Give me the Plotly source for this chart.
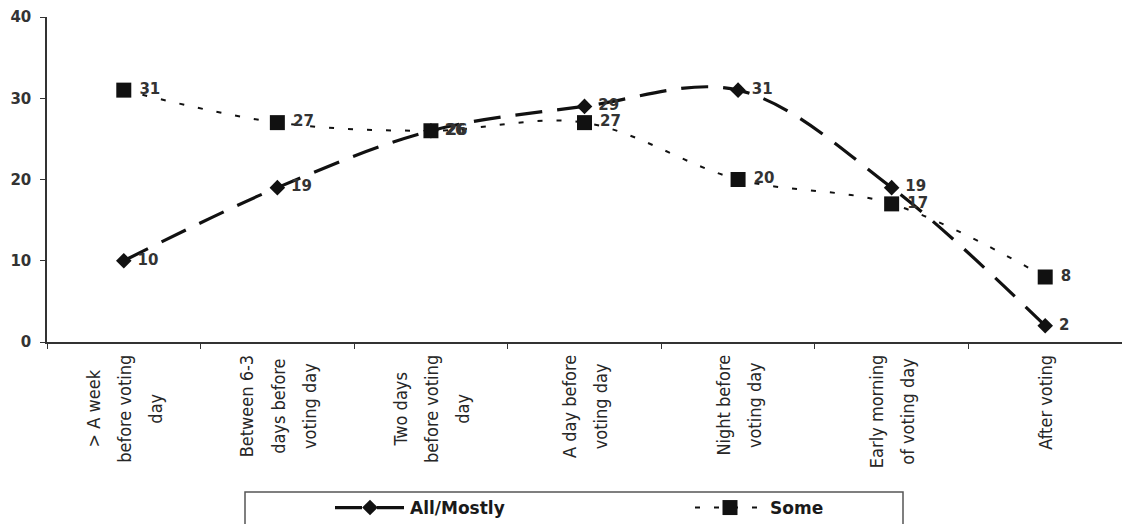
import plotly.graph_objects as go

# Timing of the decision, one category per point on the x axis
categories = [
    "> A week before voting day",
    "Between 6-3 days before voting day",
    "Two days before voting day",
    "A day before voting day",
    "Night before voting day",
    "Early morning of voting day",
    "After voting",
]
tick_labels = [
    "> A week<br>before voting<br>day",
    "Between 6-3<br>days before<br>voting day",
    "Two days<br>before voting<br>day",
    "A day before<br>voting day",
    "Night before<br>voting day",
    "Early morning<br>of voting day",
    "After voting",
]
all_mostly = [10, 19, 26, 29, 31, 19, 2]
some = [31, 27, 26, 27, 20, 17, 8]
y_ticks = [0, 10, 20, 30, 40]

W, H = 1122, 524
M_L, M_R, M_T, M_B = 47, 0, 17, 182
PW, PH = W - M_L - M_R, H - M_T - M_B


def px_x(p):
    return (p - M_L) / PW


def px_y(p):
    return (H - M_B - p) / PH


def wide_lines(label, size):
    # keep the larger annotation font for line pitch, draw glyphs smaller
    return "<br>".join(f'<span style="font-size:{size}px">{part}</span>'
                       for part in label.split("<br>"))


label_font = dict(family="DejaVu Sans", size=15, color="#333333", weight="bold")

fig = go.Figure()
fig.add_trace(go.Scatter(
    x=categories, y=all_mostly, name="All/Mostly",
    mode="lines+markers+text",
    line=dict(color="#111111", width=3.2, dash="27px,15px", shape="spline", smoothing=1.0),
    marker=dict(symbol="diamond", size=12, color="#111111"),
    text=[f" {v}" for v in all_mostly], textposition="middle right",
    textfont=label_font,
))
fig.add_trace(go.Scatter(
    x=categories, y=some, name="Some",
    mode="lines+markers+text",
    line=dict(color="#111111", width=2, dash="5px,14px", shape="spline", smoothing=1.0),
    marker=dict(symbol="square", size=15, color="#111111"),
    text=[f" {v}" for v in some], textposition="middle right",
    textfont=label_font,
))

# Category labels, rotated and centred line by line under each point
for cat, lab in zip(categories, tick_labels):
    fig.add_annotation(
        x=cat, xref="x", y=0, yref="paper", yanchor="top", xanchor="center",
        yshift=-11, text=wide_lines(lab, 18), textangle=-90, align="center",
        showarrow=False,
        font=dict(family="Liberation Sans Narrow, DejaVu Sans Condensed, Arial Narrow, sans-serif",
                  size=24, color="#262626"),
    )

# Legend frame
fig.add_shape(type="rect", xref="paper", yref="paper",
              x0=px_x(245), x1=px_x(903), y0=px_y(492), y1=px_y(540),
              line=dict(color="#555555", width=1.5), fillcolor="rgba(0,0,0,0)")

fig.update_layout(
    width=W, height=H,
    margin=dict(l=M_L, r=M_R, t=M_T, b=M_B, autoexpand=False),
    paper_bgcolor="white", plot_bgcolor="white",
    showlegend=True,
    legend=dict(
        orientation="h", x=px_x(330), xanchor="left", y=px_y(508), yanchor="middle",
        entrywidth=275, entrywidthmode="pixels", itemwidth=70,
        font=dict(family="DejaVu Sans", size=17, color="#1a1a1a", weight="bold"),
        bgcolor="rgba(0,0,0,0)", borderwidth=0,
    ),
    xaxis=dict(
        type="category", categoryorder="array", categoryarray=categories,
        range=[-0.5, 6.5], showticklabels=False, tickson="boundaries",
        ticks="outside", ticklen=5, tickcolor="#333333", tickwidth=1.2,
        showline=True, linecolor="#333333", linewidth=1.5,
        showgrid=False, zeroline=False, fixedrange=True,
    ),
    yaxis=dict(
        range=[0, 40], tickvals=y_ticks, ticks="outside", ticklen=5,
        tickcolor="#333333", tickwidth=1.2, ticklabelstandoff=6,
        tickfont=dict(family="DejaVu Sans", size=15, color="#333333", weight="bold"),
        showline=True, linecolor="#333333", linewidth=1.5,
        showgrid=False, zeroline=False, fixedrange=True,
    ),
)

fig.write_html("out.html")
